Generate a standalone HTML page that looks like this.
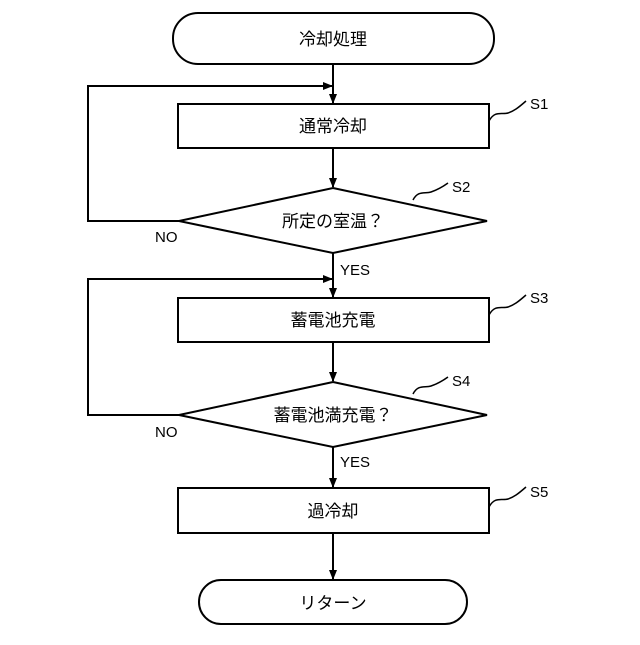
<!DOCTYPE html>
<html><head><meta charset="utf-8"><style>
html,body{margin:0;padding:0;background:#fff;}
svg text{font-family:"Liberation Sans","Noto Sans CJK JP",sans-serif;fill:#000;}
</style></head><body>
<svg width="640" height="640" viewBox="0 0 640 640" xmlns="http://www.w3.org/2000/svg">
<defs><marker id="a" markerWidth="10" markerHeight="10" refX="9" refY="5" orient="auto" markerUnits="userSpaceOnUse"><path d="M0,1 L10,5 L0,9 z" fill="#000"/></marker></defs>
<g fill="none" stroke="#000" stroke-width="2">
<rect x="173" y="13" width="321" height="51" rx="25"/>
<rect x="178" y="104" width="311" height="44"/>
<polygon points="333,188 487,221 333,253 179,221"/>
<rect x="178" y="298" width="311" height="44"/>
<polygon points="333,382 487,415 333,447 179,415"/>
<rect x="178" y="488" width="311" height="45"/>
<rect x="199" y="580" width="268" height="44" rx="22"/>
<line x1="333" y1="64" x2="333" y2="103" marker-end="url(#a)"/>
<polyline points="179,221 88,221 88,86 332,86" marker-end="url(#a)"/>
<line x1="333" y1="148" x2="333" y2="187" marker-end="url(#a)"/>
<line x1="333" y1="253" x2="333" y2="297" marker-end="url(#a)"/>
<polyline points="179,415 88,415 88,279 332,279" marker-end="url(#a)"/>
<line x1="333" y1="342" x2="333" y2="381" marker-end="url(#a)"/>
<line x1="333" y1="447" x2="333" y2="487" marker-end="url(#a)"/>
<line x1="333" y1="533" x2="333" y2="579" marker-end="url(#a)"/>
<g stroke-width="1.5">
<path d="M489,121 C495,110 502,115 508,113 C514,111 518,108 526,101"/>
<path d="M413,200 C418,190 425,194 431,192 C437,190 441,188 448,183"/>
<path d="M489,315 C495,304 502,309 508,307 C514,305 518,302 526,295"/>
<path d="M413,394 C418,384 425,388 431,386 C437,384 441,382 448,377"/>
<path d="M489,507 C495,496 502,501 508,499 C514,497 518,494 526,487"/>
</g>
</g>
<g font-size="17" text-anchor="middle">
<text x="333" y="45">冷却処理</text>
<text x="333" y="132">通常冷却</text>
<text x="333" y="227">所定の室温？</text>
<text x="333" y="326">蓄電池充電</text>
<text x="333" y="421">蓄電池満充電？</text>
<text x="333" y="517">過冷却</text>
<text x="333" y="609">リターン</text>
</g>
<g font-size="15">
<text x="530" y="109">S1</text>
<text x="452" y="192">S2</text>
<text x="530" y="303">S3</text>
<text x="452" y="386">S4</text>
<text x="530" y="497">S5</text>
<text x="155" y="242">NO</text>
<text x="155" y="437">NO</text>
<text x="340" y="275">YES</text>
<text x="340" y="467">YES</text>
</g>
</svg>
</body></html>
